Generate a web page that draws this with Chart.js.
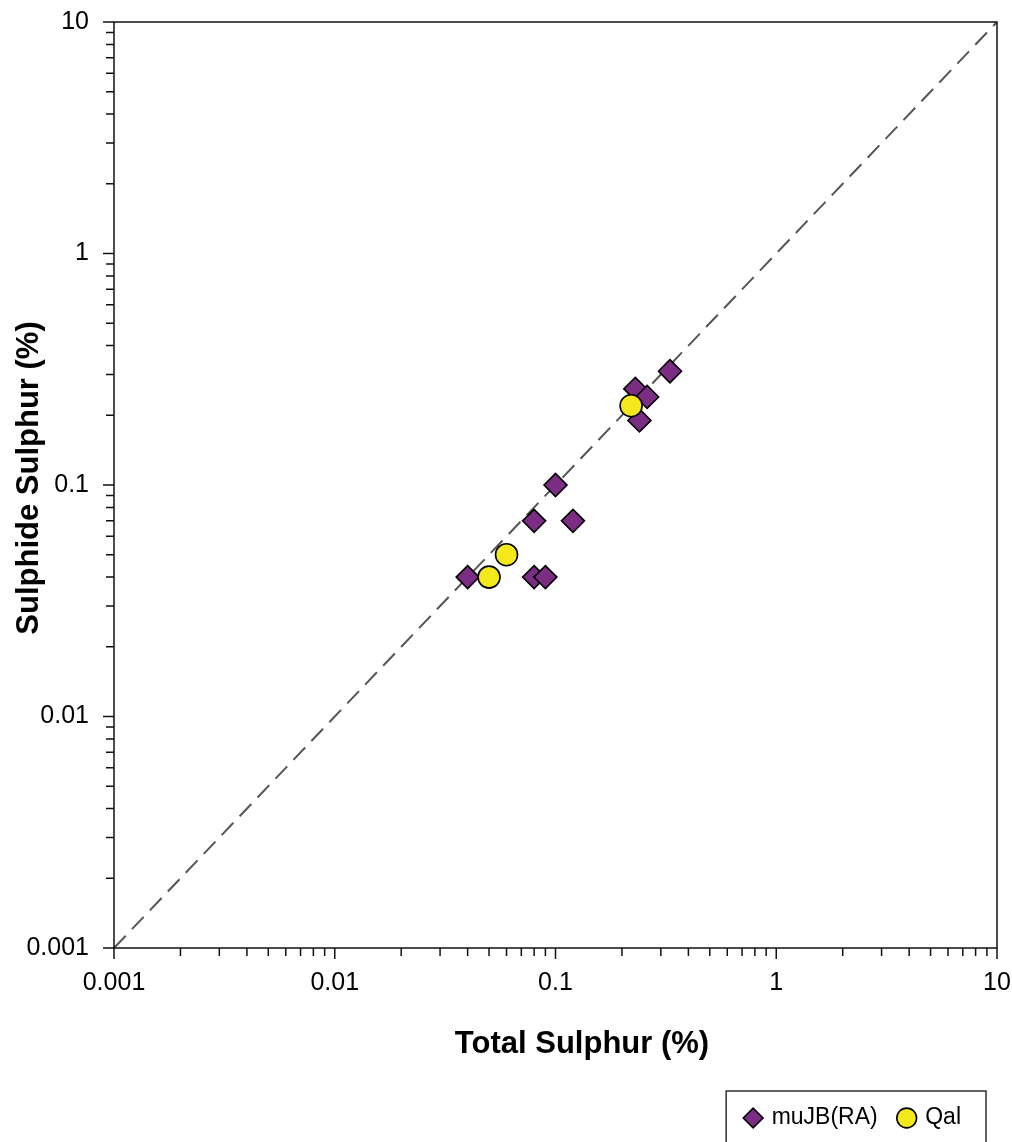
<!DOCTYPE html>
<html>
<head>
<meta charset="utf-8">
<script src="https://cdn.jsdelivr.net/npm/chart.js@4"></script>
<style>
  html, body { margin: 0; padding: 0; background: #fff; }
  #wrap { width: 1012px; height: 1142px; }
</style>
</head>
<body>
<div id="wrap"><canvas id="sulphur" width="1012" height="1142"></canvas></div>
<script>
// total vs sulphide sulphur (%), by unit
const muJB_total    = [0.33, 0.23, 0.26, 0.24, 0.10, 0.08, 0.12, 0.04, 0.08, 0.09];
const muJB_sulphide = [0.31, 0.26, 0.24, 0.19, 0.10, 0.07, 0.07, 0.04, 0.04, 0.04];
const qal_total     = [0.22, 0.06, 0.05];
const qal_sulphide  = [0.22, 0.05, 0.04];
const seriesNames = ["muJB(RA)", "Qal"];

// 1:1 reference line end points
const oneToOne = [0.001, 10];

const axisMajor  = [0.001, 0.01, 0.1, 1, 10];
const axisLabels = ["0.001", "0.01", "0.1", "1", "10"];
const xTitle = "Total Sulphur (%)";
const yTitle = "Sulphide Sulphur (%)";

const FONT = "'Liberation Sans', Arial, sans-serif";
const LEGEND_GAP = 22;

// log ticks: 1..9 in every decade, plus the last major
const tickValues = [];
for (let i = 0; i < axisMajor.length - 1; i++) {
  for (let m = 1; m <= 9; m++) {
    tickValues.push(Number((m * axisMajor[i]).toPrecision(10)));
  }
}
tickValues.push(axisMajor[axisMajor.length - 1]);

function majorIndex(v) {
  return axisMajor.findIndex(m => Math.abs(m - v) / m < 1e-9);
}

function pairs(xs, ys) {
  return xs.map((x, i) => ({ x: x, y: ys[i] }));
}

function setTicks(scale) {
  scale.ticks = tickValues.map(v => ({ value: v, major: majorIndex(v) >= 0 }));
}

function tickLabel(value) {
  const i = majorIndex(value);
  return i >= 0 ? axisLabels[i] : "";
}

// frame, tick marks, axis titles and the box round the legend
const decorations = {
  id: "decorations",
  afterLayout(chart) {
    // last legend label ends 36px inside the plot's right edge
    const dx = chart.legend.right - (chart.chartArea.right - 36 + LEGEND_GAP);
    chart.legend.left -= dx;
    chart.legend.right -= dx;
  },
  afterDraw(chart) {
    const ctx = chart.ctx;
    const a = chart.chartArea;
    const xs = chart.scales.x, ys = chart.scales.y;
    ctx.save();
    ctx.strokeStyle = "#111";
    ctx.lineWidth = 1.5;
    ctx.strokeRect(a.left, a.top, a.right - a.left, a.bottom - a.top);

    ctx.beginPath();
    tickValues.forEach(v => {
      const len = majorIndex(v) >= 0 ? 11 : 8;
      const px = xs.getPixelForValue(v);
      ctx.moveTo(px, a.bottom);
      ctx.lineTo(px, a.bottom + len);
      const py = ys.getPixelForValue(v);
      ctx.moveTo(a.left, py);
      ctx.lineTo(a.left - len, py);
    });
    ctx.stroke();

    ctx.fillStyle = "#000";
    ctx.font = "bold 31px " + FONT;
    ctx.textAlign = "center";
    ctx.textBaseline = "alphabetic";
    ctx.fillText(xTitle, 582, 1053);
    ctx.translate(38, 478);
    ctx.rotate(-Math.PI / 2);
    ctx.fillText(yTitle, 0, 0);
    ctx.restore();

    const boxes = chart.legend.legendHitBoxes;
    if (boxes && boxes.length) {
      const left = Math.min(...boxes.map(b => b.left)) - 20;
      const right = Math.max(...boxes.map(b => b.left + b.width)) + 25;
      const top = Math.min(...boxes.map(b => b.top)) - 15.5;
      ctx.save();
      ctx.strokeStyle = "#222";
      ctx.lineWidth = 1.4;
      ctx.strokeRect(left, top, right - left, chart.height + 10 - top);
      ctx.restore();
    }
  }
};

new Chart(document.getElementById("sulphur"), {
  type: "scatter",
  data: {
    datasets: [
      {
        label: seriesNames[0],
        data: pairs(muJB_total, muJB_sulphide),
        pointStyle: "rectRot",
        pointRadius: 11.5,
        pointHoverRadius: 11.5,
        backgroundColor: "#7b2c83",
        borderColor: "#000",
        borderWidth: 1.6,
        order: 2
      },
      {
        label: seriesNames[1],
        data: pairs(qal_total, qal_sulphide),
        pointStyle: "circle",
        pointRadius: 11,
        pointHoverRadius: 11,
        backgroundColor: "#f2e81c",
        borderColor: "#000",
        borderWidth: 1.6,
        order: 1
      },
      {
        label: "1:1",
        data: pairs(oneToOne, oneToOne),
        showLine: true,
        pointRadius: 0,
        borderColor: "#555",
        borderWidth: 2,
        borderDash: [17, 9],
        order: 3
      }
    ]
  },
  options: {
    responsive: false,
    animation: false,
    devicePixelRatio: 1,
    layout: { padding: { top: 22, right: 15, bottom: 2.5, left: 0 } },
    scales: {
      x: {
        type: "logarithmic",
        min: axisMajor[0],
        max: axisMajor[axisMajor.length - 1],
        grid: { display: false, drawTicks: false },
        border: { display: false },
        afterBuildTicks: setTicks,
        afterFit(scale) {
          scale.height = 136.5;
          scale.paddingLeft = 0;
          scale.paddingRight = 0;
        },
        ticks: {
          autoSkip: false,
          maxRotation: 0,
          padding: 20,
          color: "#000",
          font: { family: FONT, size: 25 },
          callback: tickLabel
        }
      },
      y: {
        type: "logarithmic",
        min: axisMajor[0],
        max: axisMajor[axisMajor.length - 1],
        grid: { display: false, drawTicks: false },
        border: { display: false },
        afterBuildTicks: setTicks,
        afterFit(scale) {
          scale.width = 114;
          scale.paddingTop = 0;
          scale.paddingBottom = 0;
        },
        ticks: {
          autoSkip: false,
          padding: 25,
          color: "#000",
          font: { family: FONT, size: 25 },
          callback: tickLabel
        }
      }
    },
    plugins: {
      tooltip: { enabled: false },
      legend: {
        position: "bottom",
        align: "end",
        labels: {
          usePointStyle: true,
          boxWidth: 14,
          boxHeight: 14,
          padding: LEGEND_GAP,
          color: "#000",
          font: { family: FONT, size: 23 },
          filter: item => item.datasetIndex < 2,
          sort: (a, b) => a.datasetIndex - b.datasetIndex
        }
      }
    }
  },
  plugins: [decorations]
});
</script>
</body>
</html>
